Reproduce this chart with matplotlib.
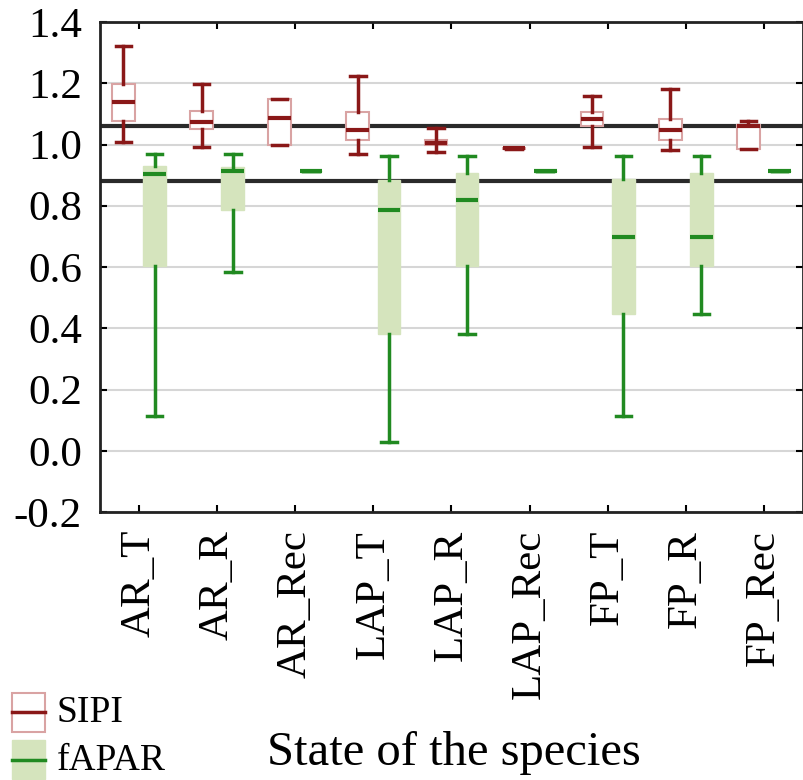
import matplotlib
matplotlib.use("Agg")
import matplotlib.pyplot as plt
from matplotlib.patches import Rectangle
from matplotlib.lines import Line2D

categories = ["AR_T", "AR_R", "AR_Rec", "LAP_T", "LAP_R", "LAP_Rec", "FP_T", "FP_R", "FP_Rec"]

# SIPI: whisker low, q1, median, q3, whisker high
sipi_whislo = [1.007, 0.992, 0.997, 0.970, 0.975, 0.985, 0.992, 0.981, 0.986]
sipi_q1     = [1.076, 1.049, 0.997, 1.016, 0.997, 0.985, 1.062, 1.016, 0.986]
sipi_med    = [1.140, 1.073, 1.085, 1.046, 1.006, 0.988, 1.082, 1.047, 1.060]
sipi_q3     = [1.198, 1.109, 1.150, 1.106, 1.016, 0.990, 1.106, 1.082, 1.064]
sipi_whishi = [1.321, 1.199, 1.150, 1.223, 1.055, 0.990, 1.158, 1.182, 1.076]

# fAPAR
fapar_whislo = [0.112, 0.584, 0.913, 0.027, 0.381, 0.913, 0.112, 0.448, 0.913]
fapar_q1     = [0.602, 0.785, 0.913, 0.381, 0.602, 0.913, 0.448, 0.602, 0.913]
fapar_med    = [0.904, 0.915, 0.913, 0.786, 0.818, 0.913, 0.699, 0.699, 0.913]
fapar_q3     = [0.929, 0.927, 0.913, 0.883, 0.907, 0.913, 0.886, 0.907, 0.913]
fapar_whishi = [0.970, 0.970, 0.913, 0.962, 0.962, 0.913, 0.962, 0.962, 0.913]

ref_lines = [1.062, 0.882]
yticks = [-0.2, 0.0, 0.2, 0.4, 0.6, 0.8, 1.0, 1.2, 1.4]

plt.rcParams['font.family'] = ['Liberation Serif', 'DejaVu Serif']

fig = plt.figure(figsize=(8.04, 7.80), dpi=100)
ax = fig.add_axes([100/804, 1-512/780, 703/804, 490/780])

red = "#8a1818"
red_edge = "#d9a3a3"
green = "#218a21"
green_fill = "#d5e4bd"

def stats(lo, q1, med, q3, hi):
    return [dict(whislo=a, q1=b, med=c, q3=d, whishi=e, fliers=[])
            for a, b, c, d, e in zip(lo, q1, med, q3, hi)]

pos = list(range(len(categories)))
off = 0.2
w = 0.29

for y in yticks:
    ax.axhline(y, color="#d6d6d6", lw=1.5, zorder=0)
for y in ref_lines:
    ax.axhline(y, color="#2a2a2a", lw=3, zorder=1)

ax.bxp(stats(sipi_whislo, sipi_q1, sipi_med, sipi_q3, sipi_whishi),
       positions=[p - off for p in pos], widths=w, patch_artist=True,
       showfliers=False, manage_ticks=False,
       boxprops=dict(facecolor="white", edgecolor=red_edge, lw=1.5),
       medianprops=dict(color=red, lw=3),
       whiskerprops=dict(color=red, lw=2.5),
       capprops=dict(color=red, lw=2.5), capwidths=0.2, zorder=3)

ax.bxp(stats(fapar_whislo, fapar_q1, fapar_med, fapar_q3, fapar_whishi),
       positions=[p + off for p in pos], widths=w, patch_artist=True,
       showfliers=False, manage_ticks=False,
       boxprops=dict(facecolor=green_fill, edgecolor=green_fill, lw=1),
       medianprops=dict(color=green, lw=3),
       whiskerprops=dict(color=green, lw=2.5),
       capprops=dict(color=green, lw=2.5), capwidths=0.2, zorder=3)

ax.set_xlim(-0.5, len(categories) - 0.5)
ax.set_ylim(-0.2, 1.4)
ax.set_yticks(yticks)
ax.set_yticklabels([f"{v:.1f}" for v in yticks])
ax.set_xticks(pos)
ax.set_xticklabels(categories, rotation=90)
ax.tick_params(axis='both', direction='in', length=5, width=1.5,
               labelsize=31, top=True, right=True, pad=13)
for s in ax.spines.values():
    s.set_linewidth(2)
    s.set_color("#222222")

fig.text(454/804, 1-765/780, "State of the species", fontsize=35,
         ha="center", va="baseline")

# manual legend
def fx(x): return x/804
def fy(y): return 1-y/780
fig.add_artist(Rectangle((fx(12), fy(732)), fx(33), 39/780, transform=fig.transFigure,
                         facecolor="white", edgecolor=red_edge, lw=1.5))
fig.add_artist(Line2D([fx(12), fx(45)], [fy(712), fy(712)], transform=fig.transFigure,
                      color=red, lw=2.5))
fig.add_artist(Rectangle((fx(12), fy(779)), fx(33), 39/780, transform=fig.transFigure,
                         facecolor=green_fill, edgecolor=green_fill, lw=1))
fig.add_artist(Line2D([fx(12), fx(45)], [fy(760), fy(760)], transform=fig.transFigure,
                      color=green, lw=2.5))
fig.text(fx(57), fy(713), "SIPI", fontsize=27, ha="left", va="center")
fig.text(fx(57), fy(761), "fAPAR", fontsize=27, ha="left", va="center")

fig.savefig("out.png", dpi=100)
